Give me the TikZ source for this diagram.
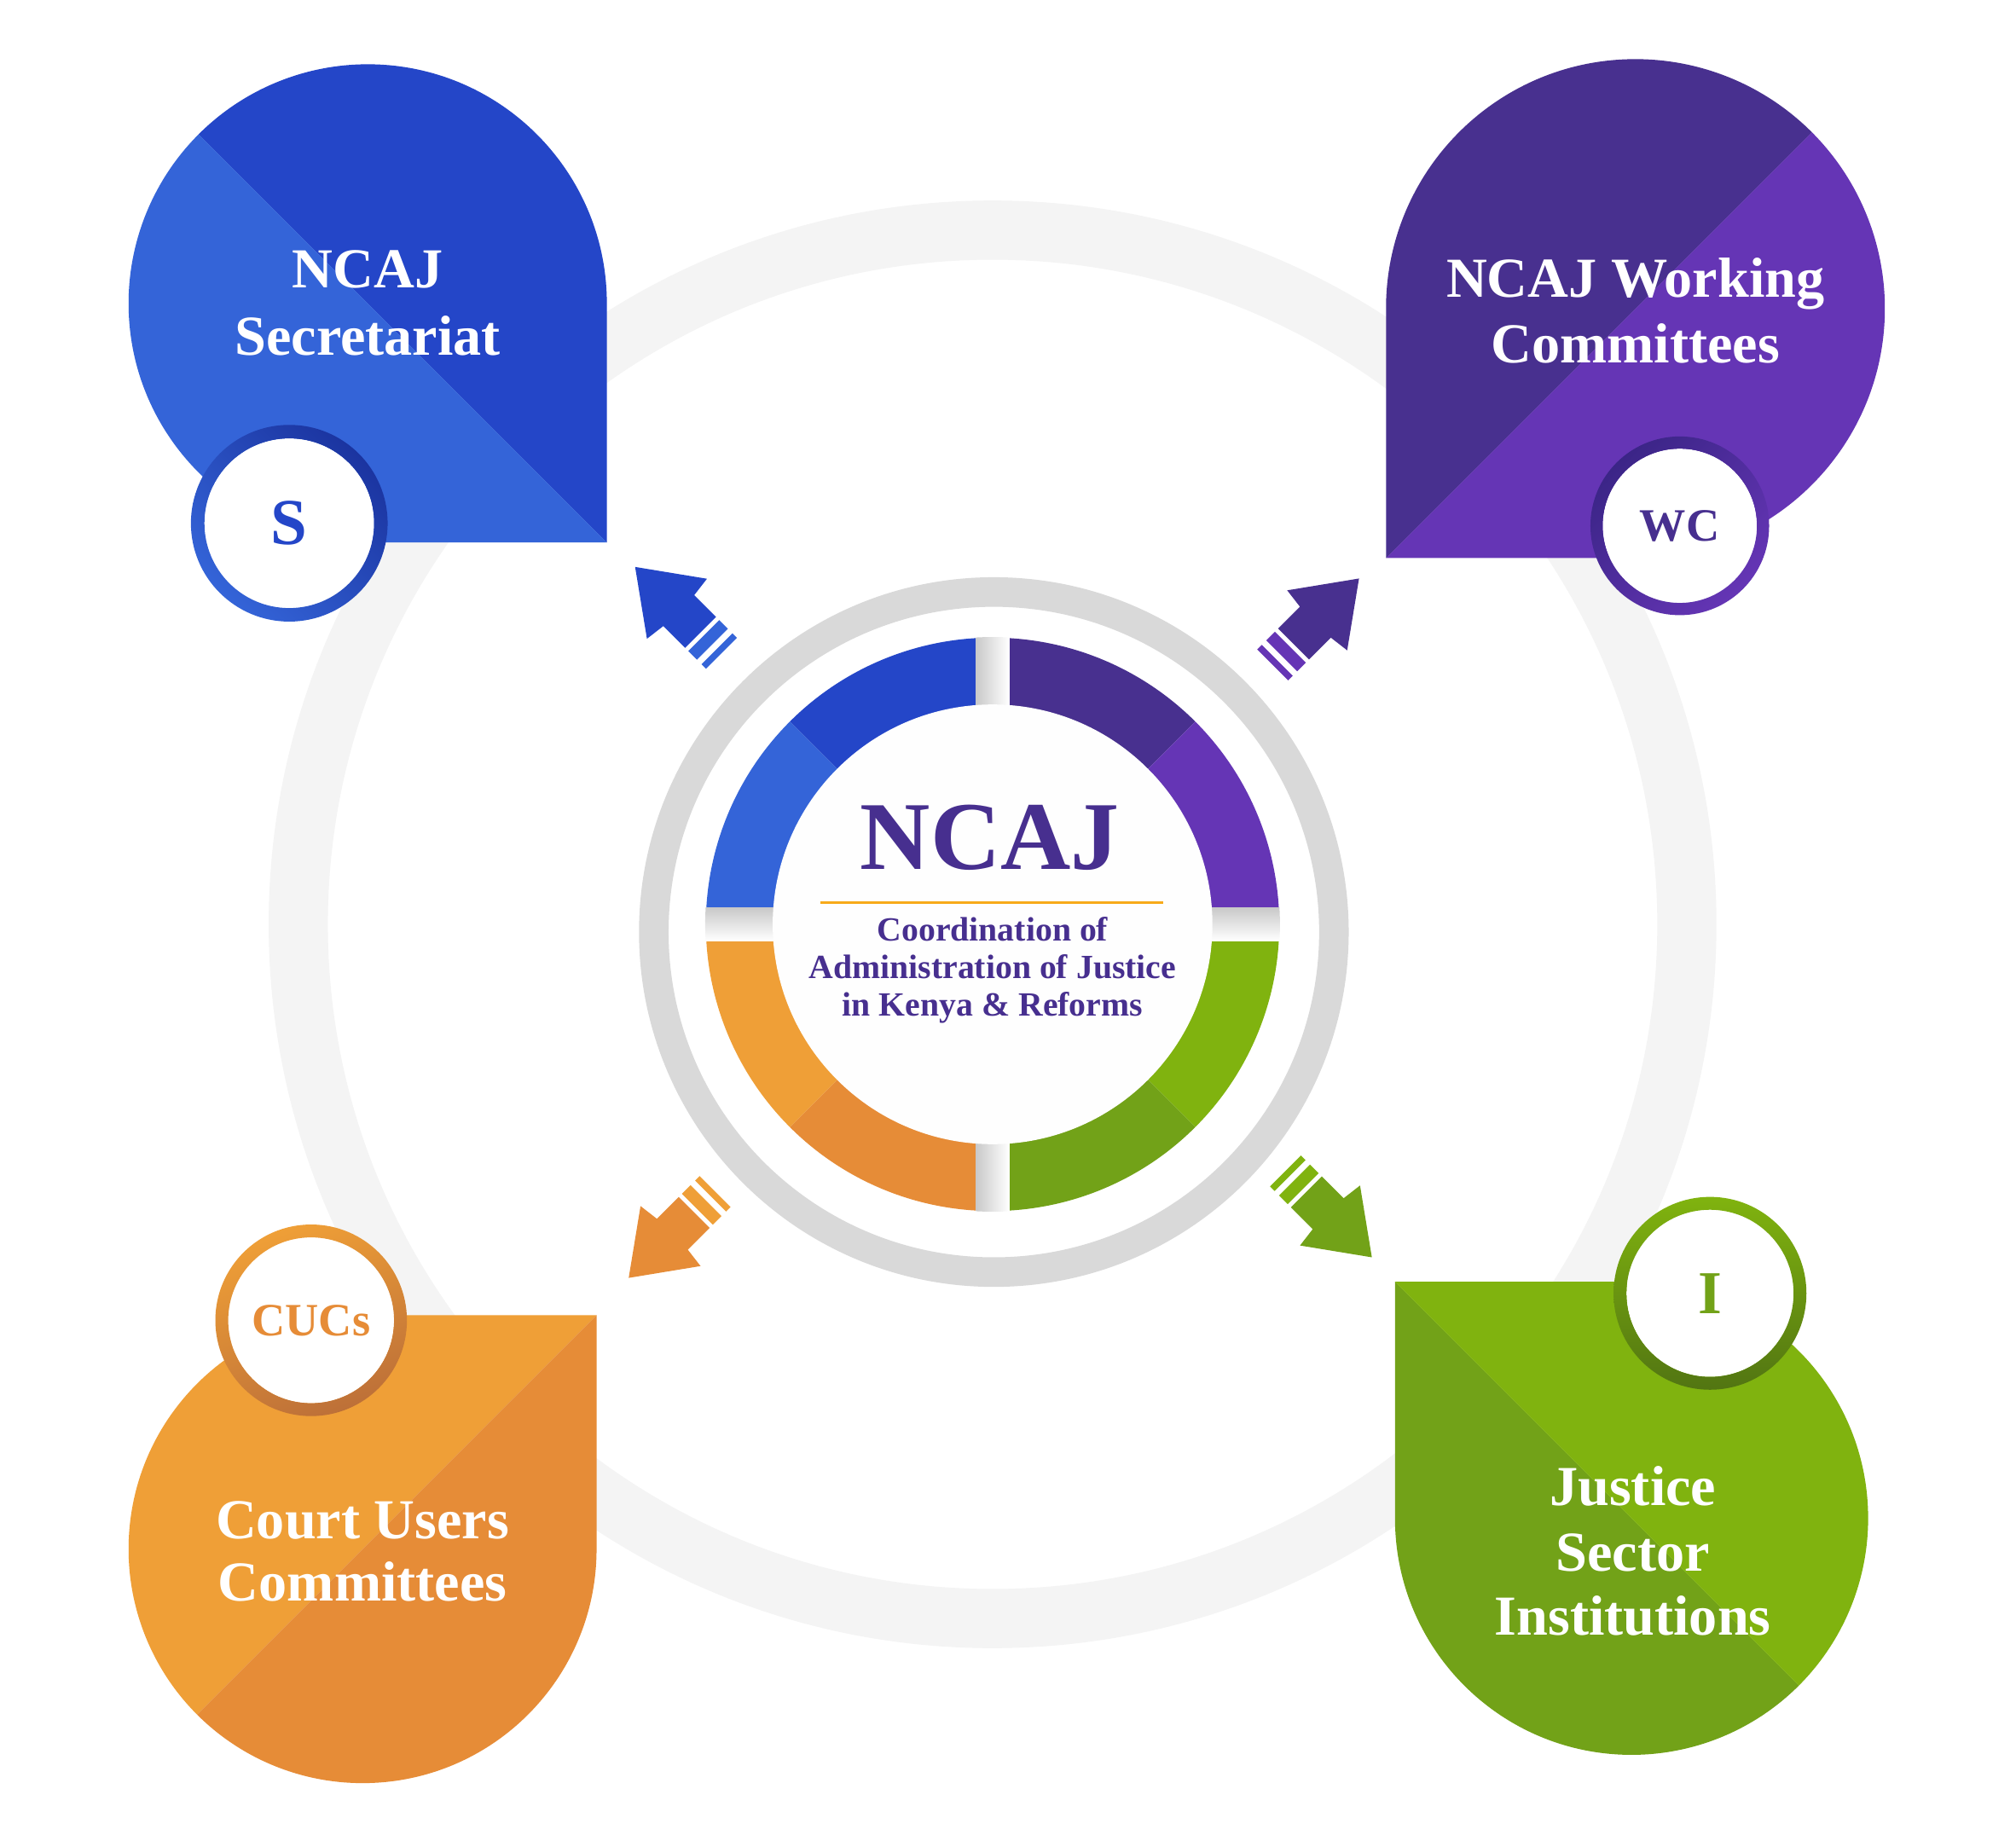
\documentclass[tikz,border=0pt]{standalone}
\usepackage{fontspec}
\setmainfont{Liberation Serif}
\definecolor{blueD}{HTML}{2446C8}
\definecolor{blueL}{HTML}{3464D8}
\definecolor{blueR}{HTML}{1B34A0}
\definecolor{purpD}{HTML}{48308F}
\definecolor{purpL}{HTML}{6535B5}
\definecolor{purpR}{HTML}{3B2587}
\definecolor{orgL}{HTML}{EF9F37}
\definecolor{orgD}{HTML}{E68C37}
\definecolor{orgR}{HTML}{BD7038}
\definecolor{grnL}{HTML}{80B30F}
\definecolor{grnD}{HTML}{72A218}
\definecolor{grnR}{HTML}{527512}
\definecolor{ringL}{HTML}{F4F4F4}
\definecolor{ringM}{HTML}{D9D9D9}
\definecolor{gapG}{HTML}{C9C9C9}
\definecolor{titleP}{HTML}{472F8F}
\definecolor{ruleO}{HTML}{F7AA1A}

\begin{document}
\begin{tikzpicture}[x=0.2mm, y=0.2mm,
    petaltext/.style={text=white, font=\fontsize{25}{30}\selectfont\bfseries, anchor=base, inner sep=0pt},
    subtext/.style={text=titleP, font=\fontsize{15}{18}\selectfont\bfseries, anchor=base, inner sep=0pt},
    badgetext/.style={font=\bfseries, inner sep=0pt}]
            \fill[white] (-772,-713) rectangle (796,719);
            \fill[ringL, even odd rule] (0,0) circle (563) (0,0) circle (517);

            \fill[blueD] (-300,297) -- (-300,483) arc[start angle=0, end angle=135, radius=186] -- cycle;
            \fill[blueL] (-300,297) -- (-486,297) arc[start angle=270, end angle=135, radius=186] -- cycle;
            \fill[purpL] (306,285) -- (500,285) arc[start angle=-90, end angle=45, radius=194] -- cycle;
            \fill[purpD] (306,285) -- (306,479) arc[start angle=180, end angle=45, radius=194] -- cycle;
            \fill[orgL] (-308,-304) -- (-490,-304) arc[start angle=90, end angle=225, radius=182] -- cycle;
            \fill[orgD] (-308,-304) -- (-308,-486) arc[start angle=0, end angle=-135, radius=182] -- cycle;
            \fill[grnD] (313,-278) -- (313,-462) arc[start angle=180, end angle=315, radius=184] -- cycle;
            \fill[grnL] (313,-278) -- (497,-278) arc[start angle=90, end angle=-45, radius=184] -- cycle;

            \fill[white] (-547,312) circle (66);
            \shade[even odd rule, top color=blueR, bottom color=blueL, shading angle=-45] (-547,312) circle (76.5) (-547,312) circle (66);
            \fill[white] (534.5,310) circle (60);
            \shade[even odd rule, top color=purpR, bottom color=purpL, shading angle=45] (534.5,310) circle (69.5) (534.5,310) circle (60);
            \fill[white] (-530,-308) circle (64.5);
            \shade[even odd rule, top color=orgL, bottom color=orgR, shading angle=20] (-530,-308) circle (74.5) (-530,-308) circle (64.5);
            \fill[white] (558,-287) circle (65);
            \shade[even odd rule, top color=grnL, bottom color=grnR] (558,-287) circle (75) (558,-287) circle (65);

            \fill[ringM, even odd rule] (1,-6) circle (276) (1,-6) circle (253);

            \fill[blueD] (0,0) -- (90:223) arc[start angle=90, end angle=135, radius=223] -- cycle;
            \fill[blueL] (0,0) -- (135:223) arc[start angle=135, end angle=180, radius=223] -- cycle;
            \fill[purpD] (0,0) -- (45:223) arc[start angle=45, end angle=90, radius=223] -- cycle;
            \fill[purpL] (0,0) -- (0:223) arc[start angle=0, end angle=45, radius=223] -- cycle;
            \fill[grnL] (0,0) -- (-45:223) arc[start angle=-45, end angle=0, radius=223] -- cycle;
            \fill[grnD] (0,0) -- (-90:223) arc[start angle=-90, end angle=-45, radius=223] -- cycle;
            \fill[orgD] (0,0) -- (225:223) arc[start angle=225, end angle=270, radius=223] -- cycle;
            \fill[orgL] (0,0) -- (180:223) arc[start angle=180, end angle=225, radius=223] -- cycle;
            \begin{scope}
                \clip (0,0) circle (223.5);
                \shade[left color=gapG, right color=white] (-13,-224) rectangle (13,224);
                \shade[top color=gapG, bottom color=white] (-224,13) rectangle (224,-13);
            \end{scope}
            \fill[white!99!gray] (0,0) circle (171);

            \begin{scope}[shift={(-278,278)}, rotate=135]
                \fill[blueD] (0,0) -- (-46,33) -- (-48,17) -- (-72,17) -- (-72,-17) -- (-48,-17) -- (-46,-33) -- cycle;
                \fill[blueL] (-75.5,-17) rectangle (-85,17);
                \fill[blueL] (-90,-17) rectangle (-95,17);
            \end{scope}
            \begin{scope}[shift={(285,269)}, rotate=45]
                \fill[purpD] (0,0) -- (-46,33) -- (-48,17) -- (-72,17) -- (-72,-17) -- (-48,-17) -- (-46,-33) -- cycle;
                \fill[purpL] (-75.5,-17) rectangle (-85,17);
                \fill[purpL] (-90,-17) rectangle (-95,17);
            \end{scope}
            \begin{scope}[shift={(-283,-275)}, rotate=-135]
                \fill[orgD] (0,0) -- (-46,33) -- (-48,17) -- (-72,17) -- (-72,-17) -- (-48,-17) -- (-46,-33) -- cycle;
                \fill[orgL] (-75.5,-17) rectangle (-85,17);
                \fill[orgL] (-90,-17) rectangle (-95,17);
            \end{scope}
            \begin{scope}[shift={(295,-259)}, rotate=-45]
                \fill[grnD] (0,0) -- (-46,33) -- (-48,17) -- (-72,17) -- (-72,-17) -- (-48,-17) -- (-46,-33) -- cycle;
                \fill[grnL] (-75.5,-17) rectangle (-85,17);
                \fill[grnL] (-90,-17) rectangle (-95,17);
            \end{scope}

            \node[petaltext] (secA) at (-486,495) {NCAJ};
            \node[petaltext] (secB) at (-486,443) {Secretariat};
            \node[petaltext] (wcA) at (500,488) {NCAJ Working};
            \node[petaltext] (wcB) at (500,437) {Committees};
            \node[petaltext] (cucA) at (-490,-478) {Court Users};
            \node[petaltext] (cucB) at (-490,-526) {Committees};
            \node[petaltext] (jsA) at (498,-452) {Justice};
            \node[petaltext] (jsB) at (498,-503) {Sector};
            \node[petaltext] (jsC) at (498,-553) {Institutions};

            \node[badgetext, text=blueD, font=\fontsize{29}{32}\selectfont\bfseries] (sBadge) at (-547,312) {S};
            \node[badgetext, text=titleP, font=\fontsize{20.5}{24}\selectfont\bfseries] (wcBadge) at (534.5,310) {WC};
            \node[badgetext, text=orgD, font=\fontsize{20.5}{24}\selectfont\bfseries] (cucBadge) at (-530,-308) {CUCs};
            \node[badgetext, text=grnD, font=\fontsize{27}{30}\selectfont\bfseries] (iBadge) at (558,-287) {I};

            \node[anchor=base, inner sep=0pt, text=titleP, font=\fontsize{43}{48}\selectfont\bfseries] (title) at (-2,43) {NCAJ};
            \draw[ruleO, line width=1.4pt] (-134,17) -- (133,17);
            \node[subtext] (subA) at (0,-13) {Coordination of};
            \node[subtext] (subB) at (0,-42) {Administration of Justice};
            \node[subtext] (subC) at (0,-71) {in Kenya \& Reforms};
        \end{tikzpicture}
\end{document}
